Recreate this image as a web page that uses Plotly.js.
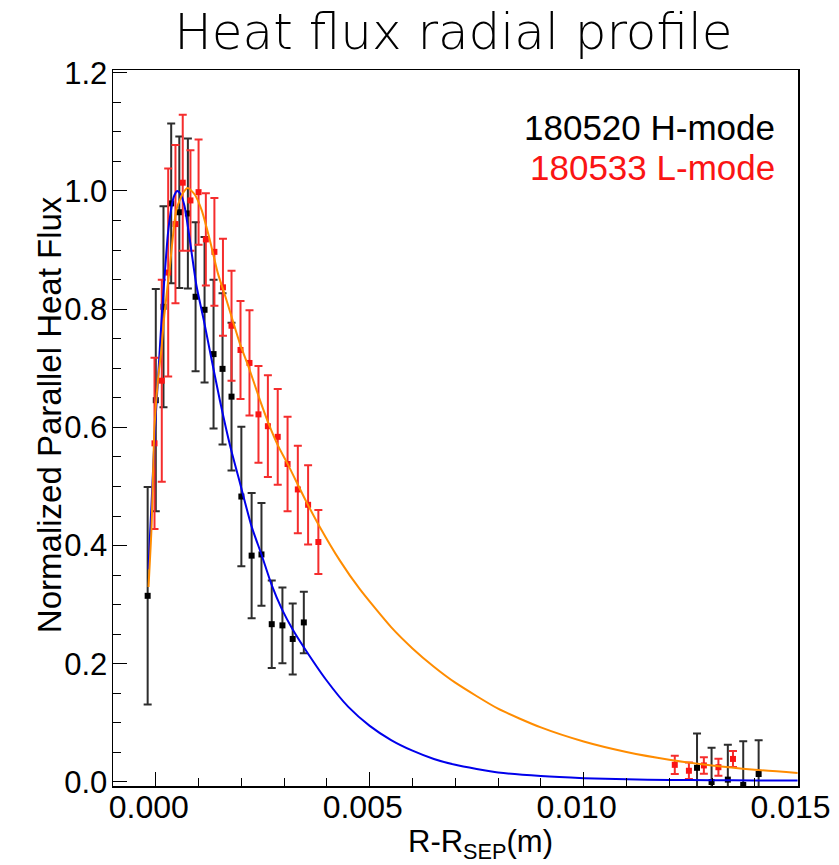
<!DOCTYPE html>
<html>
<head>
<meta charset="utf-8">
<script src="https://cdn.plot.ly/plotly-3.0.1.min.js"></script>
<style>html,body{margin:0;padding:0;background:#fff;}#chart{width:839px;height:865px;}</style>
</head>
<body>
<div id="chart"></div>
<script>
// H-mode (180520) measured points
const hX = [-0.00019, 0.00000, 0.00018, 0.00036, 0.00055, 0.00075, 0.00093, 0.00114, 0.00135, 0.00156, 0.00177, 0.00200, 0.00224, 0.00247, 0.00271, 0.00296, 0.00320, 0.00346, 0.01265, 0.01299, 0.01337, 0.01373, 0.01409];
const hY = [0.315, 0.646, 0.804, 0.979, 0.964, 0.962, 0.821, 0.799, 0.724, 0.699, 0.652, 0.483, 0.383, 0.385, 0.267, 0.265, 0.242, 0.270, 0.024, 0.000, 0.004, -0.005, 0.0135];
const hErr = [0.184, 0.188, 0.170, 0.135, 0.128, 0.127, 0.126, 0.123, 0.126, 0.128, 0.125, 0.118, 0.106, 0.087, 0.074, 0.064, 0.060, 0.052, 0.058, 0.058, 0.059, 0.074, 0.057];

// L-mode (180533) measured points
const lX = [-0.00003, 0.00014, 0.00029, 0.00046, 0.00063, 0.00081, 0.00100, 0.00117, 0.00137, 0.00157, 0.00177, 0.00198, 0.00219, 0.00240, 0.00262, 0.00285, 0.00308, 0.00332, 0.00356, 0.00380, 0.01213, 0.01246, 0.01281, 0.01315, 0.01349];
const lY = [0.573, 0.679, 0.862, 0.944, 1.014, 0.984, 0.998, 0.918, 0.897, 0.837, 0.772, 0.731, 0.709, 0.622, 0.602, 0.584, 0.538, 0.495, 0.469, 0.406, 0.029, 0.019, 0.028, 0.025, 0.039];
const lErr = [0.145, 0.171, 0.176, 0.134, 0.115, 0.085, 0.089, 0.078, 0.091, 0.082, 0.093, 0.083, 0.089, 0.082, 0.086, 0.081, 0.080, 0.074, 0.067, 0.054, 0.0155, 0.014, 0.014, 0.0145, 0.0135];

// Fit curves
const hFitX = [-0.00017, -0.00014, -0.00010, -0.00005, 0.00000, 0.00005, 0.00010, 0.00015, 0.00020, 0.00028, 0.00035, 0.00042, 0.00050, 0.00058, 0.00067, 0.00079, 0.00095, 0.00112, 0.00126, 0.00150, 0.00175, 0.00196, 0.00224, 0.00247, 0.00271, 0.00295, 0.00320, 0.00346, 0.00398, 0.00450, 0.00500, 0.00550, 0.00600, 0.00650, 0.00700, 0.00750, 0.00800, 0.00900, 0.01000, 0.01100, 0.01200, 0.01300, 0.01400, 0.01500];
const hFitY = [0.360, 0.410, 0.470, 0.550, 0.620, 0.680, 0.740, 0.800, 0.850, 0.925, 0.965, 0.990, 1.000, 0.995, 0.975, 0.920, 0.840, 0.782, 0.731, 0.645, 0.565, 0.508, 0.432, 0.385, 0.333, 0.292, 0.258, 0.228, 0.173, 0.127, 0.095, 0.071, 0.053, 0.039, 0.029, 0.022, 0.016, 0.010, 0.0065, 0.0045, 0.0035, 0.0030, 0.0027, 0.0025];

const lFitX = [-0.00017, -0.00010, -0.00003, 0.00005, 0.00013, 0.00020, 0.00033, 0.00048, 0.00064, 0.00075, 0.00091, 0.00107, 0.00126, 0.00145, 0.00165, 0.00196, 0.00219, 0.00243, 0.00266, 0.00285, 0.00309, 0.00352, 0.00383, 0.00430, 0.00476, 0.00550, 0.00600, 0.00650, 0.00700, 0.00800, 0.00900, 0.01000, 0.01100, 0.01200, 0.01300, 0.01400, 0.01500];
const lFitY = [0.330, 0.430, 0.600, 0.680, 0.731, 0.790, 0.873, 0.968, 0.997, 1.005, 0.994, 0.968, 0.918, 0.861, 0.816, 0.743, 0.698, 0.647, 0.602, 0.570, 0.537, 0.474, 0.432, 0.375, 0.327, 0.262, 0.226, 0.195, 0.168, 0.124, 0.0923, 0.0685, 0.0508, 0.0377, 0.0280, 0.0208, 0.0154];

const xTicks = [0.000, 0.005, 0.010, 0.015];
const xTickText = ['0.000', '0.005', '0.010', '0.015'];
const yTicks = [0.0, 0.2, 0.4, 0.6, 0.8, 1.0, 1.2];
const yTickText = ['0.0', '0.2', '0.4', '0.6', '0.8', '1.0', '1.2'];

const RED = 'rgb(250,20,20)';
const BLUE = 'rgb(0,0,235)';
const ORANGE = 'rgb(255,140,0)';
const NARROW = 'Liberation Sans, Arial, sans-serif';

const traces = [
  {
    x: hX, y: hY, type: 'scatter', mode: 'markers', name: '180520 H-mode',
    marker: {symbol: 'square', size: 6, color: 'black'},
    error_y: {type: 'data', array: hErr, visible: true, color: 'rgb(45,45,45)', thickness: 2, width: 4},
    showlegend: false, cliponaxis: true
  },
  {
    x: lX, y: lY, type: 'scatter', mode: 'markers', name: '180533 L-mode',
    marker: {symbol: 'square', size: 6, color: RED},
    error_y: {type: 'data', array: lErr, visible: true, color: 'rgb(245,45,45)', thickness: 2, width: 4},
    showlegend: false, cliponaxis: true
  },
  {
    x: hFitX, y: hFitY, type: 'scatter', mode: 'lines', name: 'H-mode fit',
    line: {color: BLUE, width: 2, shape: 'spline', smoothing: 0.6}, showlegend: false
  },
  {
    x: lFitX, y: lFitY, type: 'scatter', mode: 'lines', name: 'L-mode fit',
    line: {color: ORANGE, width: 2, shape: 'spline', smoothing: 0.6}, showlegend: false
  }
];

const layout = {
  width: 839, height: 865,
  margin: {l: 113, r: 41, t: 70, b: 79},
  paper_bgcolor: 'white', plot_bgcolor: 'white',
  showlegend: false,
  title: {
    text: 'Heat flux radial profile',
    font: {family: 'DejaVu Sans, sans-serif', size: 50, color: 'black', weight: 200},
    x: 0.497, xref: 'paper', xanchor: 'center',
    y: 1 - 31 / 865, yref: 'container', yanchor: 'middle'
  },
  xaxis: {
    range: [-0.001, 0.01501],
    tickmode: 'array', tickvals: xTicks, ticktext: xTickText,
    ticks: 'inside', ticklen: 14, tickwidth: 1, tickcolor: 'black',
    minor: {dtick: 0.001, tick0: 0, ticks: 'inside', ticklen: 8, tickwidth: 1, tickcolor: 'black'},
    showline: true, linecolor: 'black', linewidth: 1.5, mirror: true,
    showgrid: false, zeroline: false,
    tickfont: {family: NARROW, size: 32, color: 'black'},
    ticklabelshift: -7, ticklabelstandoff: -8
  },
  yaxis: {
    range: [-0.0068, 1.2047],
    tickmode: 'array', tickvals: yTicks, ticktext: yTickText,
    ticks: 'inside', ticklen: 14, tickwidth: 1, tickcolor: 'black',
    minor: {dtick: 0.05, tick0: 0, ticks: 'inside', ticklen: 8, tickwidth: 1, tickcolor: 'black'},
    showline: true, linecolor: 'black', linewidth: 1.5, mirror: true,
    showgrid: false, zeroline: false,
    tickfont: {family: 'Liberation Sans, Arial, sans-serif', size: 31, color: 'black'},
    ticklabelstandoff: -2
  },
  annotations: [
    {text: '180520 H-mode', xref: 'paper', yref: 'paper', x: 0.969, y: 0.920, xanchor: 'right', yanchor: 'middle', showarrow: false,
     font: {family: 'Liberation Sans, Arial, sans-serif', size: 35, color: 'black'}},
    {text: '180533 L-mode', xref: 'paper', yref: 'paper', x: 0.969, y: 0.8645, xanchor: 'right', yanchor: 'middle', showarrow: false,
     font: {family: 'Liberation Sans, Arial, sans-serif', size: 35, color: RED}},
    {text: 'R-R<sub>SEP</sub>(m)', xref: 'paper', yref: 'paper', x: 0.536, y: -0.081, xanchor: 'center', yanchor: 'middle', showarrow: false,
     font: {family: NARROW, size: 31, color: 'black'}},
    {text: 'Normalized Parallel Heat Flux', xref: 'paper', yref: 'paper', x: -0.0934, y: 0.518, xanchor: 'center', yanchor: 'middle', textangle: -90, showarrow: false,
     font: {family: NARROW, size: 33, color: 'black'}}
  ]
};

Plotly.newPlot('chart', traces, layout, {displayModeBar: false, staticPlot: true});
</script>
</body>
</html>
